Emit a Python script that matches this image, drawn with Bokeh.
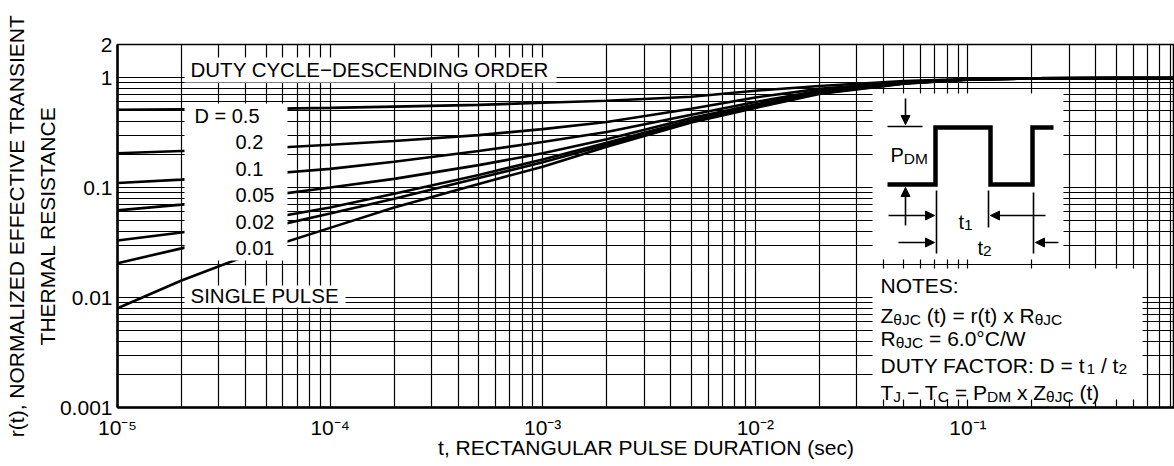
from bokeh.plotting import figure
from bokeh.models import (Range1d, LinearScale, FixedTicker, CustomJSTickFormatter,
                          Label, Arrow, NormalHead)
from bokeh.embed import file_html
from bokeh.resources import INLINE

# ---------------- data ----------------
t_sec = [1e-5, 2e-5, 5e-5, 1e-4, 2e-4, 5e-4, 1e-3, 2e-3, 5e-3, 1e-2,
         2e-2, 5e-2, 1e-1, 2e-1, 5e-1, 1.0]
r_d050 = [0.51, 0.515, 0.52, 0.53, 0.545, 0.565, 0.59, 0.615, 0.67, 0.76,
          0.84, 0.93, 0.97, 0.985, 0.99, 0.99]
r_d020 = [0.205, 0.215, 0.228, 0.245, 0.265, 0.30, 0.34, 0.395, 0.52, 0.66,
          0.79, 0.91, 0.965, 0.985, 0.99, 0.99]
r_d010 = [0.11, 0.118, 0.133, 0.148, 0.172, 0.215, 0.26, 0.32, 0.46, 0.60,
          0.76, 0.90, 0.96, 0.985, 0.99, 0.99]
r_d005 = [0.062, 0.07, 0.084, 0.10, 0.12, 0.16, 0.205, 0.275, 0.43, 0.57,
          0.74, 0.89, 0.96, 0.985, 0.99, 0.99]
r_d002 = [0.033, 0.039, 0.052, 0.066, 0.088, 0.13, 0.18, 0.255, 0.41, 0.55,
          0.73, 0.89, 0.96, 0.985, 0.99, 0.99]
r_d001 = [0.0205, 0.028, 0.043, 0.058, 0.079, 0.122, 0.17, 0.245, 0.40, 0.54,
          0.72, 0.885, 0.955, 0.985, 0.99, 0.99]
r_single = [0.008, 0.0143, 0.028, 0.043, 0.066, 0.108, 0.155, 0.235, 0.39, 0.53,
            0.71, 0.88, 0.955, 0.985, 0.99, 0.99]
curves = [r_d050, r_d020, r_d010, r_d005, r_d002, r_d001, r_single]

x_major = [1e-5, 1e-4, 1e-3, 1e-2, 1e-1, 1.0]
y_major = [0.001, 0.01, 0.1, 1.0, 2.0]
d_labels = ["D = 0.5", "0.2", "0.1", "0.05", "0.02", "0.01"]

FONT = "Liberation Sans"
FS = 21

# ---------------- figure ----------------
p = figure(width=1174, height=466, x_axis_type="log", y_axis_type="log",
           x_range=Range1d(1e-5, 0.937), y_range=Range1d(1e-3, 2.0),
           output_backend="svg", toolbar_location=None,
           min_border_left=117, min_border_right=0, min_border_top=44,
           min_border_bottom=59, background_fill_color="white",
           border_fill_color="white")
# a pixel-like helper coordinate system for the annotation boxes / diagram
p.extra_x_ranges = {"px": Range1d(117, 1174)}
p.extra_y_ranges = {"px": Range1d(407, 44)}
p.extra_x_scales = {"px": LinearScale()}
p.extra_y_scales = {"px": LinearScale()}

p.outline_line_color = "black"
p.outline_line_width = 1.5

# grid: every 1..9 of each decade
p.xgrid.ticker = FixedTicker(ticks=[m * 10.0 ** e for e in range(-5, 1) for m in range(1, 10)])
p.ygrid.ticker = FixedTicker(ticks=[m * 10.0 ** e for e in range(-3, 0) for m in range(1, 10)] + [1.0, 2.0])
for g in (p.xgrid, p.ygrid):
    g.grid_line_color = "black"
    g.grid_line_width = 1.2
    g.grid_line_alpha = 1.0

sup_code = """
const sup = {"-":"\u207b","0":"\u2070","1":"\u00b9","2":"\u00b2","3":"\u00b3","4":"\u2074","5":"\u2075"};
const e = Math.round(Math.log10(tick));
if (e == 0) return "1";
return "10" + String(e).split("").map(c => sup[c]).join("");
"""
p.xaxis.ticker = FixedTicker(ticks=x_major)
p.xaxis.formatter = CustomJSTickFormatter(code=sup_code)
p.yaxis.ticker = FixedTicker(ticks=y_major)
p.yaxis.formatter = CustomJSTickFormatter(code="""
if (tick >= 1) return tick.toFixed(0);
const e = Math.round(-Math.log10(tick));
return tick.toFixed(e);
""")

for ax in (p.xaxis, p.yaxis):
    ax.axis_line_width = 2.5
    ax.axis_line_color = "black"
    ax.major_tick_line_color = None
    ax.minor_tick_line_color = None
    ax.major_label_text_font = FONT
    ax.major_label_text_font_size = f"{FS}px"
    ax.major_label_text_color = "black"
    ax.axis_label_text_font = FONT
    ax.axis_label_text_font_size = f"{FS}px"
    ax.axis_label_text_font_style = "normal"
    ax.axis_label_text_color = "black"

p.xaxis.axis_label = "t, RECTANGULAR PULSE DURATION (sec)"
p.xaxis.major_label_standoff = 2
p.xaxis.axis_label_standoff = -6
p.yaxis.axis_label = "r(t), NORMALIZED EFFECTIVE TRANSIENT\nTHERMAL RESISTANCE"
p.yaxis.axis_label_text_line_height = 1.35
p.yaxis.major_label_standoff = -1
p.yaxis.axis_label_standoff = -2

# ---------------- curves ----------------
for r in curves:
    p.line(t_sec, r, line_color="black", line_width=2.6)

# ---------------- white annotation boxes (page pixel coords) ----------------
boxes = dict(left=[184, 184, 184, 872, 872],
             right=[556, 287, 345, 1063, 1142],
             top=[57, 103, 285, 93, 268],
             bottom=[82, 260, 307, 259, 399])
p.quad(**boxes, fill_color="white", line_color=None,
       x_range_name="px", y_range_name="px")

# ---------------- text helpers ----------------
CW = {' ': 278, '!': 278, '(': 333, ')': 333, ',': 278, '-': 333, '.': 278, '/': 278,
      ':': 278, '=': 584, '\u00b0': 400, '\u2212': 584, '\u03b8': 556}
for ch in "0123456789":
    CW[ch] = 556
CW.update(zip("ABCDEFGHIJKLMNOPQRSTUVWXYZ",
              [667, 667, 722, 722, 667, 611, 778, 722, 278, 500, 667, 556, 833,
               722, 778, 667, 778, 722, 667, 611, 722, 667, 944, 667, 667, 611]))
CW.update(zip("abcdefghijklmnopqrstuvwxyz",
              [556, 556, 500, 556, 556, 278, 556, 556, 222, 222, 500, 222, 833,
               556, 556, 556, 556, 333, 500, 278, 556, 500, 722, 500, 500, 500]))


def text_w(s, size):
    return sum(CW.get(c, 556) for c in s) / 1000.0 * size


def label(x, y, s, size=20, baseline="middle"):
    p.add_layout(Label(x=x, y=y, text=s, x_range_name="px", y_range_name="px",
                       text_font=FONT, text_font_size=f"{size}px", text_color="black",
                       text_align="left", text_baseline=baseline))


def rich(x, y, segs, size=21, sub_size=15.5, sub_dy=3.5):
    # SVG collapses leading/trailing blanks, so they are turned into offsets
    for s, sub in segs:
        sz = sub_size if sub else size
        core = s.strip(" ")
        lead = s[:len(s) - len(s.lstrip(" "))]
        if core:
            label(x + text_w(lead, sz), y + (sub_dy if sub else 0), core, size=sz,
                  baseline="alphabetic")
        x += text_w(s, sz)


label(190, 69, "DUTY CYCLE\u2212DESCENDING ORDER", size=20.5)
label(194, 115, d_labels[0])
for yy, s in zip([141, 168, 194, 221, 247], d_labels[1:]):
    label(235, yy, s)
label(190, 295, "SINGLE PULSE", size=20.5)

# ---------------- pulse diagram ----------------
p.line([887, 935, 935, 990, 990, 1032, 1032, 1053],
       [184, 184, 127, 127, 184, 184, 127, 127],
       line_color="black", line_width=4.5, line_join="miter",
       x_range_name="px", y_range_name="px")
p.multi_line(xs=[[887, 922], [936, 936], [988, 988], [1033, 1033]],
             ys=[[126, 126], [190, 253], [190, 227], [192, 253]],
             line_color="black", line_width=1.6,
             x_range_name="px", y_range_name="px")


def arrow(x0, y0, x1, y1):
    p.add_layout(Arrow(end=NormalHead(size=9, fill_color="black", line_color="black"),
                       x_start=x0, y_start=y0, x_end=x1, y_end=y1,
                       line_color="black", line_width=1.6,
                       x_range_name="px", y_range_name="px"))


arrow(905, 98, 905, 124)
arrow(905, 225, 905, 187)
arrow(888, 215, 934, 215)
arrow(1045, 215, 990, 215)
arrow(898, 242, 934, 242)
arrow(1058, 242, 1035, 242)

rich(890, 154, [("P", 0), ("DM", 1)], size=20)
rich(958, 221, [("t", 0), ("1", 1)], size=20)
rich(977, 247, [("t", 0), ("2", 1)], size=20)

# ---------------- notes ----------------
notes = [
    (285, [("NOTES:", 0)]),
    (315, [("Z", 0), ("\u03b8JC", 1), (" (t) = r(t) x R", 0), ("\u03b8JC", 1)]),
    (338, [("R", 0), ("\u03b8JC", 1), (" = 6.0\u00b0C/W", 0)]),
    (365, [("DUTY FACTOR: D = t", 0), ("1", 1), (" / t", 0), ("2", 1)]),
    (392, [("T", 0), ("J", 1), (" \u2212 T", 0), ("C", 1), (" = P", 0), ("DM", 1),
           (" x Z", 0), ("\u03b8JC", 1), (" (t)", 0)]),
]
for yb, segs in notes:
    rich(880, yb, segs)

open("out.html", "w").write(file_html(p, INLINE))
